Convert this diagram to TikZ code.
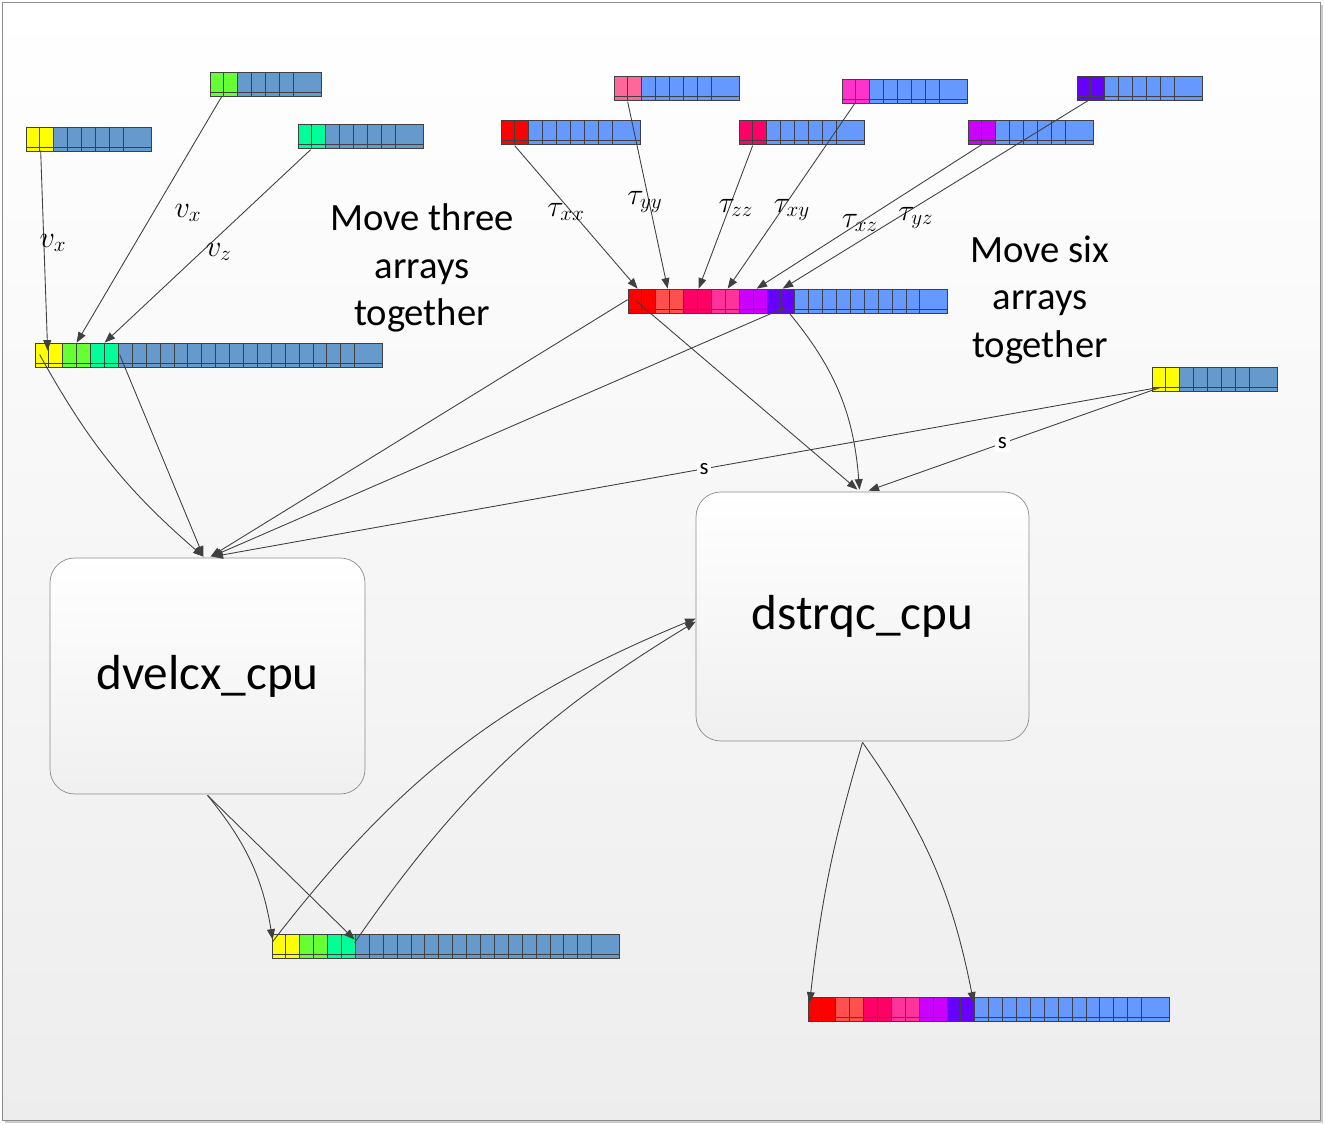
\documentclass[tikz,border=0pt]{standalone}
\usepackage{fontspec}
\setmainfont{Carlito}
\usetikzlibrary{positioning,arrows.meta,calc,fit}
\definecolor{steel}{HTML}{6699CC}
\definecolor{corn}{HTML}{6699FF}
\definecolor{vxcol}{HTML}{FFFF00}
\definecolor{vycol}{HTML}{66FF33}
\definecolor{vzcol}{HTML}{00FF99}
\definecolor{txxcol}{HTML}{FF0000}
\definecolor{tyycol}{HTML}{FF6699}
\definecolor{tyymix}{HTML}{FF5050}
\definecolor{tzzcol}{HTML}{FF0066}
\definecolor{txycol}{HTML}{FF33CC}
\definecolor{txymix}{HTML}{FF3399}
\definecolor{txzcol}{HTML}{CC00FF}
\definecolor{tyzcol}{HTML}{6600FF}
\definecolor{wire}{HTML}{404040}
\definecolor{frame}{HTML}{8C8C8C}

\def\cw{13.9}
% array of cells: name, x, y, coloured cells, blue cells, blue colour
\newcommand{\cellarr}[6]{%
  \begin{scope}[shift={(#2,#3)}]
    \foreach \col [count=\i] in {#4} {
      \fill[fill=\col] ({(\i-1)*\cw},0) rectangle ++(\cw,24);
      \xdef\ncol{\i}
    }
    \pgfmathtruncatemacro\nall{\ncol+#5}
    \pgfmathsetmacro\arrw{\nall*\cw+28}
    \fill[fill=#6] ({\ncol*\cw},0) rectangle (\arrw,24);
    \foreach \k in {1,...,\nall} \draw[cellline] ({\k*\cw},0) -- ++(0,24);
    \draw[cellline] (0,20) -- (\arrw,20);
    \draw[cellline] (0,0) rectangle (\arrw,24);
    \node[fit={(0,0) (\arrw,24)},inner sep=0pt] (#1) {};
  \end{scope}
}

\begin{document}
\begin{tikzpicture}[x=0.02cm,y=-0.02cm,
    cellline/.style={draw=wire,line width=0.5pt},
    link/.style={draw=wire,line width=0.5pt,-{Triangle[length=6pt,width=4.5pt]}},
    procbox/.style={draw=frame,rounded corners=14pt,top color=white,bottom color=black!6,font=\fontsize{28}{34}\selectfont},
    movetext/.style={align=center,font=\fontsize{22}{27}\selectfont},
    mathlab/.style={inner sep=1pt,font=\fontsize{17}{20}\selectfont},
    slab/.style={fill=white,inner sep=1.5pt,font=\fontsize{13}{15}\selectfont}]
  \useasboundingbox (0,0) rectangle (1325,1125);
  \fill[black!20] (5,5) rectangle (1323,1123);
  \draw[frame,top color=white,bottom color=black!7] (2,2) rectangle (1320,1120);

  % velocity arrays
  \cellarr{vxA}{26}{127}{vxcol,vxcol}{5}{steel}
  \cellarr{vyA}{210}{72}{vycol,vycol}{4}{steel}
  \cellarr{vzA}{298}{124}{vzcol,vzcol}{5}{steel}
  \cellarr{velAll}{35}{343}{vxcol,vxcol,vycol,vycol,vzcol,vzcol}{17}{steel}
  % stress arrays
  \cellarr{txxA}{501}{120}{txxcol,txxcol}{6}{corn}
  \cellarr{tyyA}{614}{76}{tyycol,tyycol}{5}{corn}
  \cellarr{tzzA}{739}{120}{tzzcol,tzzcol}{5}{corn}
  \cellarr{txyA}{842}{79}{txycol,txycol}{5}{corn}
  \cellarr{txzA}{968}{120}{txzcol,txzcol}{5}{corn}
  \cellarr{tyzA}{1077}{76}{tyzcol,tyzcol}{5}{corn}
  \cellarr{tauAll}{628}{289}{txxcol,txxcol,tyymix,tyymix,tzzcol,tzzcol,txymix,txymix,txzcol,txzcol,tyzcol,tyzcol}{9}{corn}
  \cellarr{sA}{1152}{367}{vxcol,vxcol}{5}{steel}
  % outputs
  \cellarr{velOut}{272}{934}{vxcol,vxcol,vycol,vycol,vzcol,vzcol}{17}{steel}
  \cellarr{tauOut}{808}{997}{txxcol,txxcol,tyymix,tyymix,tzzcol,tzzcol,txymix,txymix,txzcol,txzcol,tyzcol,tyzcol}{12}{corn}

  \node[procbox,minimum width=6.3cm,minimum height=4.72cm] (dvelcx) at (207.5,676) {dvelcx\_cpu};
  \node[procbox,minimum width=6.66cm,minimum height=4.98cm] (dstrqc) at (862.5,616.5) {dstrqc\_cpu};

  \node[movetext] (movethree) at (422,268) {Move three\\arrays\\together};
  \node[movetext] (movesix) at (1040,300) {Move six\\arrays\\together};

  % gather velocities
  \draw[link] ([shift={(15,24)}]vxA.north west) -- ([shift={(13,8)}]velAll.north west);
  \draw[link] ([shift={(12,25)}]vyA.north west) -- ([shift={(42,0)}]velAll.north west);
  \draw[link] ([shift={(13,26)}]vzA.north west) -- ([shift={(70,0)}]velAll.north west);
  \node[mathlab] (lvx) at (53,243) {$v_x$};
  \node[mathlab] (lvy) at (188,213) {$v_x$};
  \node[mathlab] (lvz) at (219,252) {$v_z$};

  % gather stresses
  \draw[link] ([shift={(14,26)}]txxA.north west) -- ([shift={(10,0)}]tauAll.north west);
  \draw[link] ([shift={(14,26)}]tyyA.north west) -- ([shift={(40,0)}]tauAll.north west);
  \draw[link] ([shift={(14,26)}]tzzA.north west) -- ([shift={(71,0)}]tauAll.north west);
  \draw[link] ([shift={(13,25)}]txyA.north west) -- ([shift={(100,0)}]tauAll.north west);
  \draw[link] ([shift={(14,25)}]txzA.north west) -- ([shift={(129,0)}]tauAll.north west);
  \draw[link] ([shift={(13,24)}]tyzA.north west) -- ([shift={(155,0)}]tauAll.north west);
  \node[mathlab] (ltxx) at (566,212) {$\tau_{xx}$};
  \node[mathlab] (ltyy) at (645,202) {$\tau_{yy}$};
  \node[mathlab] (ltzz) at (736,208) {$\tau_{zz}$};
  \node[mathlab] (ltxy) at (792,210) {$\tau_{xy}$};
  \node[mathlab] (ltxz) at (860,223) {$\tau_{xz}$};
  \node[mathlab] (ltyz) at (916,218) {$\tau_{yz}$};

  % into dvelcx_cpu
  \draw[link] ([shift={(5,12)}]velAll.north west) to[bend right=10] ([shift={(-4,-1)}]dvelcx.north);
  \draw[link] ([shift={(85,12)}]velAll.north west) -- ([shift={(-4,-1)}]dvelcx.north);
  \draw[link] ([shift={(0,11)}]tauAll.north west) -- ([shift={(3,-1)}]dvelcx.north);
  \draw[link] ([shift={(157,19)}]tauAll.north west) -- ([shift={(4,-1)}]dvelcx.north);
  \draw[link] ([shift={(6,21)}]sA.north west) -- node[slab,pos=0.48] (s1) {s} ([shift={(5,-1)}]dvelcx.north);

  % into dstrqc_cpu
  \draw[link] ([shift={(8,12)}]tauAll.north west) -- ([shift={(-5,-2)}]dstrqc.north);
  \draw[link] ([shift={(157,19)}]tauAll.north west) to[bend left=18] ([shift={(-3,-2)}]dstrqc.north);
  \draw[link] ([shift={(8,21)}]sA.north west) -- node[slab,pos=0.54] (s2) {s} ([shift={(6,-1)}]dstrqc.north);

  % outputs
  \draw[link] ([shift={(0,1)}]dvelcx.south) to[bend left=15] ([shift={(1,6)}]velOut.north west);
  \draw[link] ([shift={(0,1)}]dvelcx.south) -- ([shift={(83,6)}]velOut.north west);
  \draw[link] ([shift={(1,8)}]velOut.north west) to[bend left=15] ([shift={(0,2)}]dstrqc.west);
  \draw[link] ([shift={(83,9)}]velOut.north west) to[bend left=12] ([shift={(0,5)}]dstrqc.west);
  \draw[link] ([shift={(0,1)}]dstrqc.south) to[bend right=5] ([shift={(2,6)}]tauOut.north west);
  \draw[link] ([shift={(0,1)}]dstrqc.south) to[bend left=12] ([shift={(166,6)}]tauOut.north west);
\end{tikzpicture}
\end{document}
